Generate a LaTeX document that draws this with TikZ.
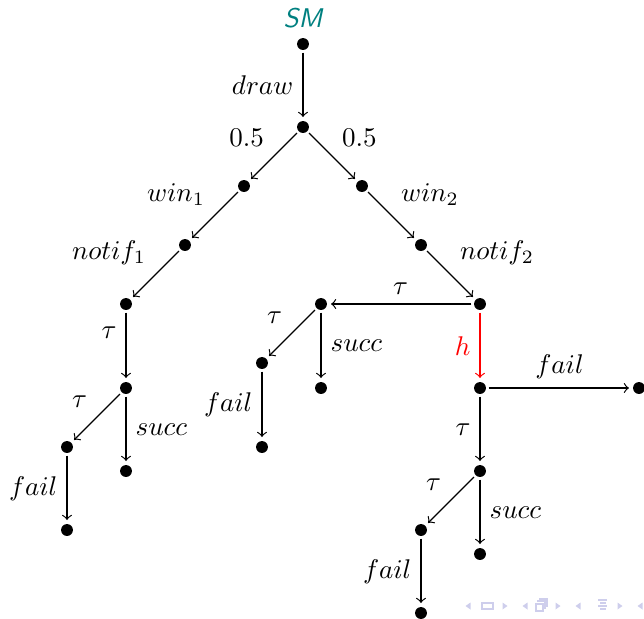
\documentclass[tikz,border=0pt]{standalone}
\usepackage{xcolor}
\definecolor{smteal}{RGB}{0,128,128}
\definecolor{navblue}{RGB}{206,206,236}

\begin{document}
\begin{tikzpicture}[x=0.013cm, y=-0.013cm,
        dot/.style={circle, fill=black, inner sep=0pt, minimum size=4.4pt, outer sep=1pt},
        edge/.style={->, line width=0.45pt, shorten >=0.5pt}]
    \useasboundingbox (0,0) rectangle (644,618);

    \node[font=\sffamily\itshape, text=smteal] (title) at (303,18) {SM};

    % root and the draw
    \node[dot] (s0) at (303,44) {};
    \node[dot] (s1) at (303,127) {};
    \node[dot] (w1) at (244,186) {};
    \node[dot] (w2) at (362,186) {};
    \node[dot] (n1) at (185,245) {};
    \node[dot] (n2) at (421,245) {};
    \draw[edge] (s0) -- (s1) node[midway, left] {$draw$};
    \draw[edge] (s1) -- (w1) node[midway, above left] {$0.5$};
    \draw[edge] (s1) -- (w2) node[midway, above right] {$0.5$};
    \draw[edge] (w1) -- (n1) node[midway, above left] {$win_1$};
    \draw[edge] (w2) -- (n2) node[midway, above right] {$win_2$};

    % left branch
    \node[dot] (a0) at (126,304) {};
    \node[dot] (a1) at (126,388) {};
    \node[dot] (a2) at (67,447) {};
    \node[dot] (a3) at (126,471) {};
    \node[dot] (a4) at (67,530) {};
    \draw[edge] (n1) -- (a0) node[midway, above left] {$notif_1$};
    \draw[edge] (a0) -- (a1) node[pos=0.3, left] {$\tau$};
    \draw[edge] (a1) -- (a2) node[midway, above left] {$\tau$};
    \draw[edge] (a1) -- (a3) node[midway, right] {$succ$};
    \draw[edge] (a2) -- (a4) node[midway, left] {$fail$};

    % right branch
    \node[dot] (b0) at (480,304) {};
    \node[dot] (c0) at (321,304) {};
    \node[dot] (c1) at (262,363) {};
    \node[dot] (c2) at (321,388) {};
    \node[dot] (c3) at (262,447) {};
    \draw[edge] (n2) -- (b0) node[midway, above right] {$notif_2$};
    \draw[edge] (b0) -- (c0) node[midway, above] {$\tau$};
    \draw[edge] (c0) -- (c1) node[midway, above left] {$\tau$};
    \draw[edge] (c0) -- (c2) node[midway, right] {$succ$};
    \draw[edge] (c1) -- (c3) node[midway, left] {$fail$};

    \node[dot] (d0) at (480,388) {};
    \node[dot] (e0) at (639,388) {};
    \node[dot] (d1) at (480,471) {};
    \node[dot] (d2) at (421,530) {};
    \node[dot] (d3) at (480,554) {};
    \node[dot] (d4) at (421,613) {};
    \draw[edge, red] (b0) -- (d0) node[midway, left] {$h$};
    \draw[edge] (d0) -- (e0) node[midway, above] {$fail$};
    \draw[edge] (d0) -- (d1) node[midway, left] {$\tau$};
    \draw[edge] (d1) -- (d2) node[midway, above left] {$\tau$};
    \draw[edge] (d1) -- (d3) node[midway, right] {$succ$};
    \draw[edge] (d2) -- (d4) node[midway, left] {$fail$};

    % navigation symbols
    \foreach \x in {468,525,578,640}
        \fill[navblue] (\x+2.5,602.5) -- (\x-2.5,606) -- (\x+2.5,609.5) -- cycle;
    \foreach \x in {505,558,620}
        \fill[navblue] (\x-2.5,602.5) -- (\x+2.5,606) -- (\x-2.5,609.5) -- cycle;
    \draw[navblue, line width=0.5pt] (482,603) rectangle (493,609);
    \draw[navblue, line width=0.5pt] (536,604) rectangle (543,611);
    \draw[navblue, line width=0.5pt] (538,602) -- (538,601) -- (545,601) -- (545,608) -- (543,608);
    \draw[navblue, line width=0.5pt] (540,601) -- (540,599) -- (547,599) -- (547,606) -- (545,606);
    \foreach \y/\a/\b in {600/598/607, 603/600/606, 606/598/607, 609/600/606}
        \draw[navblue, line width=0.6pt] (\a,\y) -- (\b,\y);
\end{tikzpicture}
\end{document}
